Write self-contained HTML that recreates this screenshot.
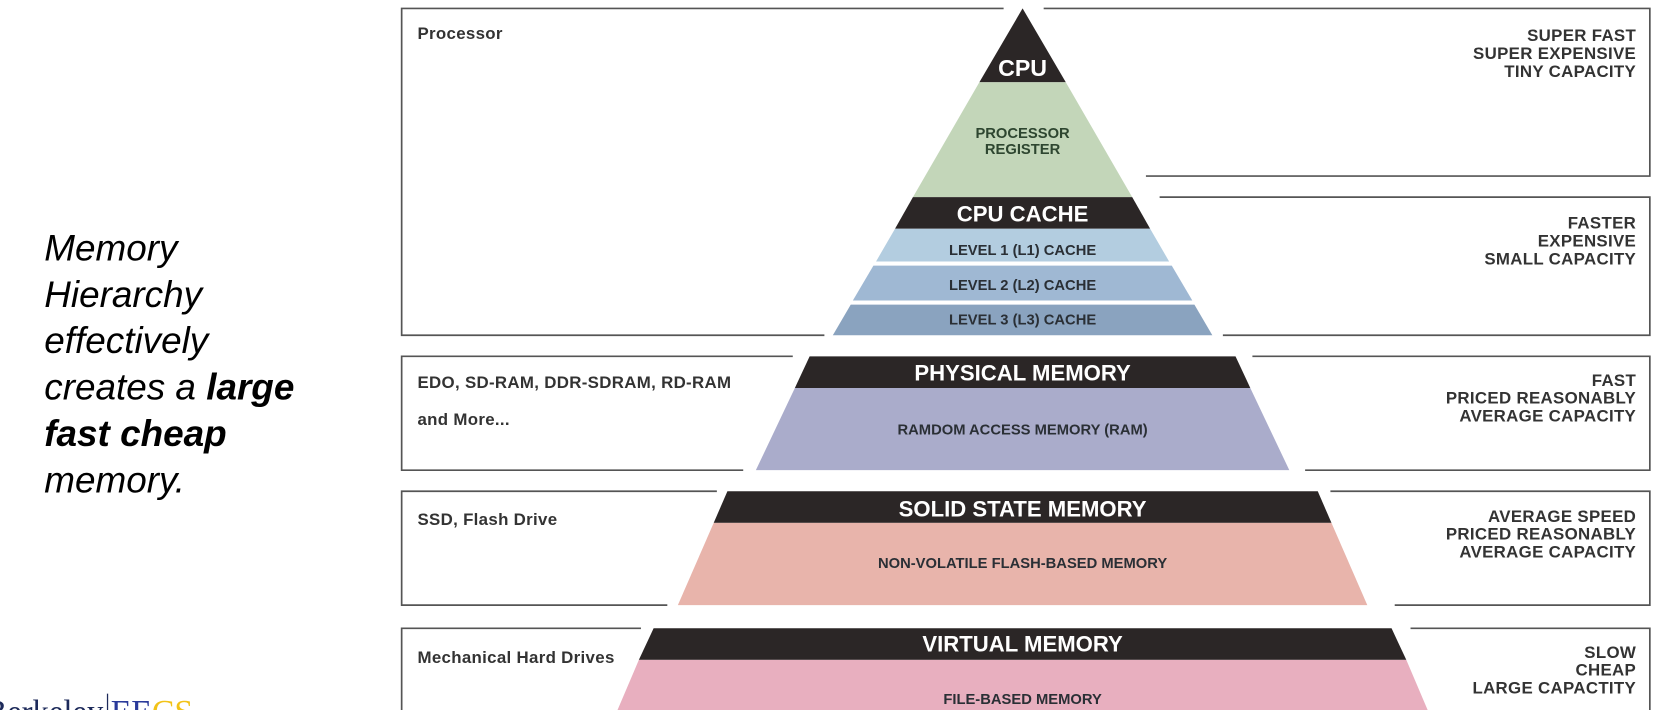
<!DOCTYPE html>
<html><head><style>html,body{margin:0;padding:0;background:#fff;overflow:hidden}svg{display:block}</style></head>
<body>
<svg width="1653" height="710" viewBox="0 0 1568 673.5" preserveAspectRatio="none" xmlns="http://www.w3.org/2000/svg">
<g fill="none" stroke="#555" stroke-width="1.6">
<polyline points="952,8 381,8 381,318 782,318"/>
<polyline points="990,8 1565,8 1565,167 1087,167"/>
<polyline points="1100,187 1565,187 1565,318 1160,318"/>
<polyline points="752,338 381,338 381,446 705,446"/>
<polyline points="1188,338 1565,338 1565,446 1238,446"/>
<polyline points="680,466 381,466 381,574 633,574"/>
<polyline points="1262,466 1565,466 1565,574 1323,574"/>
<polyline points="608,596 381,596 381,680"/>
<polyline points="1338,596 1565,596 1565,680"/>
</g>
<polygon points="970,8 929,78 1011,78" fill="#2b2626"/>
<polygon points="929,78 1011,78 1074,187 866,187" fill="#c3d6b9"/>
<polygon points="866,187 1074,187 1091,217 849,217" fill="#2b2626"/>
<polygon points="849,217 1091,217 1109,248 831,248" fill="#b3cde0"/>
<polygon points="828.5,252 1111.5,252 1131,285 809,285" fill="#9fb8d3"/>
<polygon points="807,289 1133,289 1150,318 790,318" fill="#8aa3bf"/>
<polygon points="768,338 1172,338 1186,368 754,368" fill="#2b2626"/>
<polygon points="754,368 1186,368 1223,446 717,446" fill="#aaaccb"/>
<polygon points="690,466 1250,466 1263,496 677,496" fill="#2b2626"/>
<polygon points="677,496 1263,496 1297,574 643,574" fill="#e8b4ab"/>
<polygon points="620,596 1320,596 1334,626 606,626" fill="#2b2626"/>
<polygon points="606,626 1334,626 1357,680 583,680" fill="#e8afbf"/>
<g font-family="Liberation Sans, sans-serif" font-weight="bold" text-anchor="middle">
<g fill="#fff">
<text x="970" y="72" font-size="22">CPU</text>
<text x="970" y="210" font-size="21">CPU CACHE</text>
<text x="970" y="361" font-size="21">PHYSICAL MEMORY</text>
<text x="970" y="490" font-size="21">SOLID STATE MEMORY</text>
<text x="970" y="618" font-size="21">VIRTUAL MEMORY</text>
</g>
<g font-size="14" fill="#2a2f35">
<text x="970" y="131" fill="#2e4630">PROCESSOR</text>
<text x="970" y="146" fill="#2e4630">REGISTER</text>
<text x="970" y="242">LEVEL 1 (L1) CACHE</text>
<text x="970" y="275">LEVEL 2 (L2) CACHE</text>
<text x="970" y="308">LEVEL 3 (L3) CACHE</text>
<text x="970" y="412">RAMDOM ACCESS MEMORY (RAM)</text>
<text x="970" y="539">NON-VOLATILE FLASH-BASED MEMORY</text>
<text x="970" y="668">FILE-BASED MEMORY</text>
</g>
<g font-size="16" fill="#333" text-anchor="end" letter-spacing="0.3">
<text x="1552" y="39">SUPER FAST</text><text x="1552" y="56">SUPER EXPENSIVE</text><text x="1552" y="73">TINY CAPACITY</text>
<text x="1552" y="217">FASTER</text><text x="1552" y="234">EXPENSIVE</text><text x="1552" y="251">SMALL CAPACITY</text>
<text x="1552" y="366">FAST</text><text x="1552" y="383">PRICED REASONABLY</text><text x="1552" y="400">AVERAGE CAPACITY</text>
<text x="1552" y="495">AVERAGE SPEED</text><text x="1552" y="512">PRICED REASONABLY</text><text x="1552" y="529">AVERAGE CAPACITY</text>
<text x="1552" y="624">SLOW</text><text x="1552" y="641">CHEAP</text><text x="1552" y="658">LARGE CAPACTITY</text>
</g>
<g font-size="16" fill="#333" text-anchor="start" letter-spacing="0.3">
<text x="396" y="37">Processor</text>
<text x="396" y="368">EDO, SD-RAM, DDR-SDRAM, RD-RAM</text>
<text x="396" y="403">and More...</text>
<text x="396" y="498">SSD, Flash Drive</text>
<text x="396" y="629">Mechanical Hard Drives</text>
</g>
</g>
<g font-family="Liberation Sans, sans-serif" font-style="italic" font-size="35" fill="#000">
<text x="42" y="247">Memory</text>
<text x="42" y="291">Hierarchy</text>
<text x="42" y="335">effectively</text>
<text x="42" y="379">creates a <tspan font-weight="bold">large</tspan></text>
<text x="42" y="423" font-weight="bold">fast cheap</text>
<text x="42" y="467">memory.</text>
</g>
<g font-family="Liberation Serif, serif" font-size="32">
<text x="98" y="686" text-anchor="end" fill="#1d2a5a" textLength="112" lengthAdjust="spacingAndGlyphs">Berkeley</text>
<line x1="102" y1="658" x2="102" y2="680" stroke="#1d2a5a" stroke-width="1.2"/>
<text x="105" y="686" fill="#2a3a9a">EE<tspan fill="#f2c318">CS</tspan></text>
</g>
</svg>
</body></html>
